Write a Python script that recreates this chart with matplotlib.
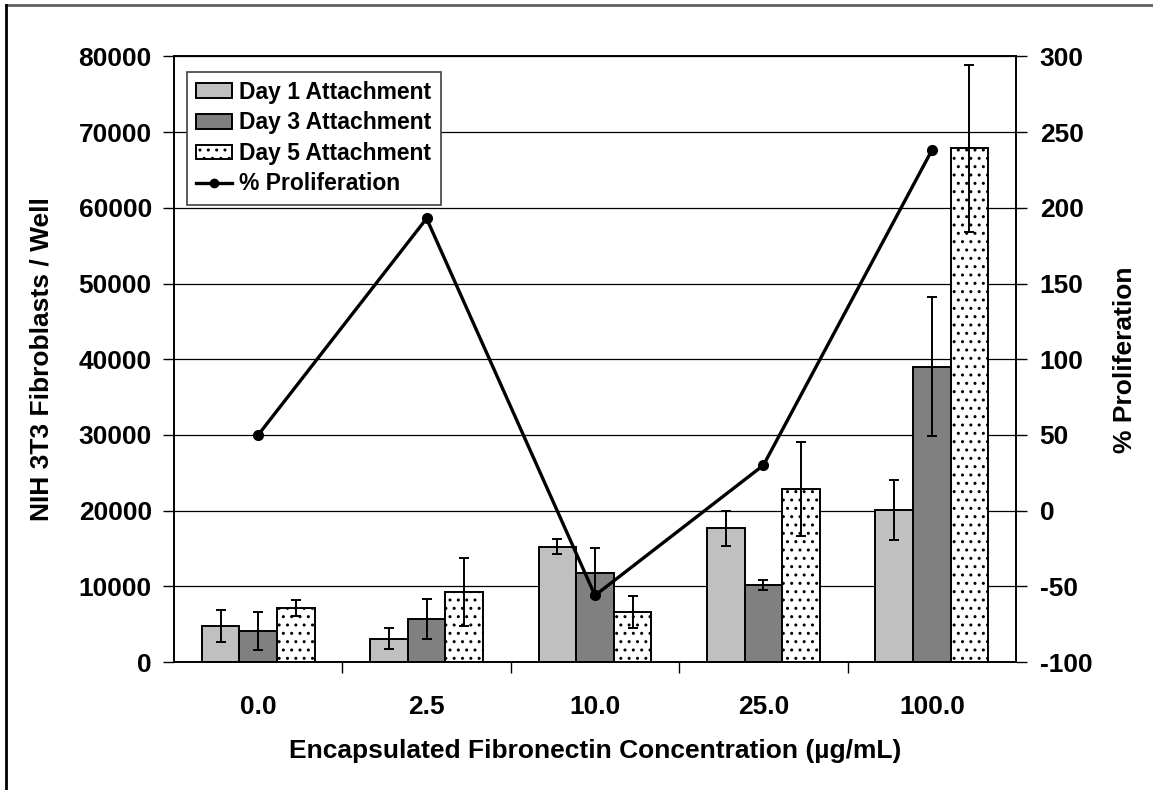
import numpy as np
import matplotlib
matplotlib.use("Agg")
import matplotlib.pyplot as plt
from matplotlib.lines import Line2D

plt.rcParams['font.family'] = ['Liberation Sans', 'DejaVu Sans']
plt.rcParams['font.weight'] = 'bold'
plt.rcParams['axes.unicode_minus'] = False
plt.rcParams['hatch.color'] = '#606060'
plt.rcParams['hatch.linewidth'] = 1.0

# data
concentrations = ["0.0", "2.5", "10.0", "25.0", "100.0"]
day1 = [4800, 3100, 15250, 17650, 20100]
day1_err = [2100, 1400, 1000, 2300, 4000]
day3 = [4100, 5700, 11800, 10200, 39000]
day3_err = [2500, 2600, 3200, 700, 9200]
day5 = [7100, 9250, 6650, 22850, 67850]
day5_err = [1080, 4550, 2100, 6200, 11000]
proliferation = [50, 193, -56, 30, 238]

fig = plt.figure(figsize=(11.53, 7.90), dpi=100)
ax = fig.add_axes([0.1509, 0.162, 0.7303, 0.7665])
ax2 = ax.twinx()

x = np.arange(len(concentrations))
w = 0.223
err_kw = dict(ecolor='black', elinewidth=1.4, capsize=3.5, capthick=1.4)
b1 = ax.bar(x - w, day1, w, yerr=day1_err, color='#c0c0c0', edgecolor='black',
            linewidth=1.4, error_kw=err_kw, label='Day 1 Attachment', zorder=2)
b3 = ax.bar(x, day3, w, yerr=day3_err, color='#808080', edgecolor='black',
            linewidth=1.4, error_kw=err_kw, label='Day 3 Attachment', zorder=2)
b5 = ax.bar(x + w, day5, w, yerr=day5_err, color='white', edgecolor='black',
            hatch='..', linewidth=1.4, error_kw=err_kw, label='Day 5 Attachment', zorder=2)

ax2.plot(x, proliferation, color='black', lw=2.4, marker='o', markersize=7,
         label='% Proliferation', zorder=5)

ax.set_xlim(-0.5, 4.5)
ax.set_ylim(0, 80000)
ax.set_yticks(np.arange(0, 80001, 10000))
ax2.set_ylim(-100, 300)
ax2.set_yticks(np.arange(-100, 301, 50))
ax.yaxis.grid(True, color='black', lw=0.9)
ax.set_axisbelow(True)

# ticks at category boundaries, labels at centers
ax.set_xticks(np.arange(0.5, 4.5, 1.0))
ax.set_xticklabels([])
ax.set_xticks(x, minor=True)
ax.set_xticklabels(concentrations, minor=True)
ax.tick_params(axis='x', which='major', length=8, width=1, direction='out')
ax.tick_params(axis='x', which='minor', length=0, pad=24, labelsize=19)
ax.tick_params(axis='y', length=8, width=1, pad=8, labelsize=19)
ax2.tick_params(axis='y', length=8, width=1, pad=9, labelsize=19)

for a in (ax, ax2):
    for s in a.spines.values():
        s.set_linewidth(1.2)
        s.set_color('black')

ax.set_xlabel("Encapsulated Fibronectin Concentration (µg/mL)", fontsize=19,
              fontweight='bold', labelpad=14)
ax.set_ylabel("NIH 3T3 Fibroblasts / Well", fontsize=19, fontweight='bold', labelpad=18)
ax2.set_ylabel("% Proliferation", fontsize=19, fontweight='bold', labelpad=15)

handles = [b1, b3, b5, Line2D([], [], color='black', lw=2.4, marker='o', markersize=6)]
labels = ['Day 1 Attachment', 'Day 3 Attachment', 'Day 5 Attachment', '% Proliferation']
leg = ax2.legend(handles, labels, loc='upper left', bbox_to_anchor=(0.015, 0.975),
                 fontsize=16.5, frameon=True, fancybox=False, edgecolor='#404040',
                 framealpha=1, borderpad=0.4, labelspacing=0.33, handlelength=1.6,
                 handleheight=0.6, handletextpad=0.3, borderaxespad=0)
leg.get_frame().set_linewidth(1.2)
for t in leg.get_texts():
    t.set_fontweight('bold')

# outer frame (top and left only)
fig.add_artist(Line2D([0.005, 1.0], [0.9935, 0.9935], color='#606060', lw=2,
                      transform=fig.transFigure))
fig.add_artist(Line2D([0.0055, 0.0055], [0.0, 0.9935], color='black', lw=2,
                      transform=fig.transFigure))

fig.savefig("out.png", dpi=100)
